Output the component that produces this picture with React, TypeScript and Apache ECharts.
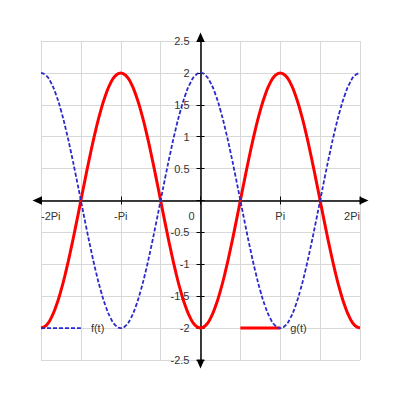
import React, { useEffect, useRef } from "react";
import * as echarts from "echarts";

// t expressed in multiples of Pi, step Pi/16
const tValues = [
  -2, -1.9375, -1.875, -1.8125, -1.75, -1.6875, -1.625, -1.5625,
  -1.5, -1.4375, -1.375, -1.3125, -1.25, -1.1875, -1.125, -1.0625,
  -1, -0.9375, -0.875, -0.8125, -0.75, -0.6875, -0.625, -0.5625,
  -0.5, -0.4375, -0.375, -0.3125, -0.25, -0.1875, -0.125, -0.0625,
  0, 0.0625, 0.125, 0.1875, 0.25, 0.3125, 0.375, 0.4375,
  0.5, 0.5625, 0.625, 0.6875, 0.75, 0.8125, 0.875, 0.9375,
  1, 1.0625, 1.125, 1.1875, 1.25, 1.3125, 1.375, 1.4375,
  1.5, 1.5625, 1.625, 1.6875, 1.75, 1.8125, 1.875, 1.9375, 2,
];
// f(t): blue dashed
const fValues = [
  2, 1.962, 1.848, 1.663, 1.414, 1.111, 0.765, 0.39,
  0, -0.39, -0.765, -1.111, -1.414, -1.663, -1.848, -1.962,
  -2, -1.962, -1.848, -1.663, -1.414, -1.111, -0.765, -0.39,
  0, 0.39, 0.765, 1.111, 1.414, 1.663, 1.848, 1.962,
  2, 1.962, 1.848, 1.663, 1.414, 1.111, 0.765, 0.39,
  0, -0.39, -0.765, -1.111, -1.414, -1.663, -1.848, -1.962,
  -2, -1.962, -1.848, -1.663, -1.414, -1.111, -0.765, -0.39,
  0, 0.39, 0.765, 1.111, 1.414, 1.663, 1.848, 1.962, 2,
];
// g(t): red solid
const gValues = [
  -2, -1.962, -1.848, -1.663, -1.414, -1.111, -0.765, -0.39,
  0, 0.39, 0.765, 1.111, 1.414, 1.663, 1.848, 1.962,
  2, 1.962, 1.848, 1.663, 1.414, 1.111, 0.765, 0.39,
  0, -0.39, -0.765, -1.111, -1.414, -1.663, -1.848, -1.962,
  -2, -1.962, -1.848, -1.663, -1.414, -1.111, -0.765, -0.39,
  0, 0.39, 0.765, 1.111, 1.414, 1.663, 1.848, 1.962,
  2, 1.962, 1.848, 1.663, 1.414, 1.111, 0.765, 0.39,
  0, -0.39, -0.765, -1.111, -1.414, -1.663, -1.848, -1.962, -2,
];
const xTickLabels: Record<string, string> = { "-2": "-2Pi", "-1": "-Pi", "0": "0", "1": "Pi", "2": "2Pi" };
const fLegendT = [-2, -1.5];
const fLegendY = [-2, -2];
const gLegendT = [0.5, 1];
const gLegendY = [-2, -2];

const FONT = "'Liberation Sans', Arial, sans-serif";
const TXT = "#333";
const BLUE = "#2a2acc";
const RED = "#ff0000";
const GRID = { left: 41, right: 40, top: 41, bottom: 40 };
const CW = 400;
const CH = 400;

export default function App() {
  const ref = useRef<HTMLDivElement>(null);
  useEffect(() => {
    if (!ref.current) return;
    const chart = echarts.init(ref.current, undefined, { renderer: "svg" });
    const zip = (xs: number[], ys: number[]) => xs.map((x, i) => [x, ys[i]]);
    // shift axes from the grid edge to the centre (where 0 lies)
    const xOff = -(CH - GRID.top - GRID.bottom) / 2;
    const yOff = -(CW - GRID.left - GRID.right) / 2;
    const arrowLine = {
      show: true, onZero: false,
      symbol: ["triangle", "triangle"], symbolSize: [8, 9], symbolOffset: [-4, 4],
      lineStyle: { color: "#000", width: 1.5 },
    };
    chart.setOption({
      animation: false,
      backgroundColor: "#fff",
      textStyle: { fontFamily: FONT },
      grid: { ...GRID, containLabel: false },
      xAxis: [
        {
          type: "value", min: -2, max: 2, interval: 1, position: "bottom", offset: xOff,
          axisLine: arrowLine,
          axisTick: { show: true, length: 4, lineStyle: { color: "#000" } },
          axisLabel: {
            show: true, margin: 10, fontSize: 11, color: TXT, fontFamily: FONT,
            alignMinLabel: "left", alignMaxLabel: "right",
            formatter: (v: number) => (v === 0 ? "{z|0}" : xTickLabels[String(v)] ?? ""),
            rich: { z: { padding: [0, 18, 0, 0], fontSize: 11, color: TXT, fontFamily: FONT } },
          },
          splitLine: { show: false },
        },
        {
          type: "value", min: -2, max: 2, interval: 1, position: "top", offset: xOff,
          axisLine: { show: false, onZero: false },
          axisTick: { show: true, length: 4, lineStyle: { color: "#000" } },
          axisLabel: { show: false },
          splitLine: { show: false },
        },
        {
          type: "value", min: -2, max: 2, interval: 0.5,
          axisLine: { show: false, onZero: false },
          axisTick: { show: false },
          axisLabel: { show: false },
          splitLine: { show: true, lineStyle: { color: "#d8d8d8", width: 1 } },
        },
      ],
      yAxis: [
        {
          type: "value", min: -2.5, max: 2.5, interval: 0.5, position: "left", offset: yOff,
          axisLine: arrowLine,
          axisTick: { show: true, length: 4, lineStyle: { color: "#000" } },
          axisLabel: {
            show: true, margin: 11, fontSize: 11, color: TXT, fontFamily: FONT,
            formatter: (v: number) => (v === 0 ? "" : String(v)),
          },
          splitLine: { show: true, lineStyle: { color: "#d8d8d8", width: 1 } },
        },
        {
          type: "value", min: -2.5, max: 2.5, interval: 0.5, position: "right", offset: yOff,
          axisLine: { show: false, onZero: false },
          axisTick: { show: true, length: 4, lineStyle: { color: "#000" } },
          axisLabel: { show: false },
          splitLine: { show: false },
        },
      ],
      series: [
        {
          name: "f(t)", type: "line", xAxisIndex: 0, yAxisIndex: 0,
          data: zip(tValues, fValues), smooth: true, showSymbol: false, symbol: "none",
          lineStyle: { color: BLUE, width: 1.8, type: [4, 2] },
          z: 3,
        },
        {
          name: "g(t)", type: "line", xAxisIndex: 0, yAxisIndex: 0,
          data: zip(tValues, gValues), smooth: true, showSymbol: false, symbol: "none",
          lineStyle: { color: RED, width: 3 },
          z: 2,
        },
        {
          name: "f legend", type: "line", xAxisIndex: 0, yAxisIndex: 0,
          data: zip(fLegendT, fLegendY), showSymbol: false, symbol: "none",
          lineStyle: { color: BLUE, width: 1.8, type: [4, 2] },
          endLabel: { show: true, formatter: "f(t)", distance: 10, color: TXT, fontSize: 11, fontFamily: FONT },
          z: 3,
        },
        {
          name: "g legend", type: "line", xAxisIndex: 0, yAxisIndex: 0,
          data: zip(gLegendT, gLegendY), showSymbol: false, symbol: "none",
          lineStyle: { color: RED, width: 3 },
          endLabel: { show: true, formatter: "g(t)", distance: 10, color: TXT, fontSize: 11, fontFamily: FONT },
          z: 2,
        },
      ],
    });
    return () => chart.dispose();
  }, []);
  return (
    <div
      ref={ref}
      style={{ position: "fixed", left: 0, top: 0, width: CW, height: CH, background: "#fff" }}
    />
  );
}
